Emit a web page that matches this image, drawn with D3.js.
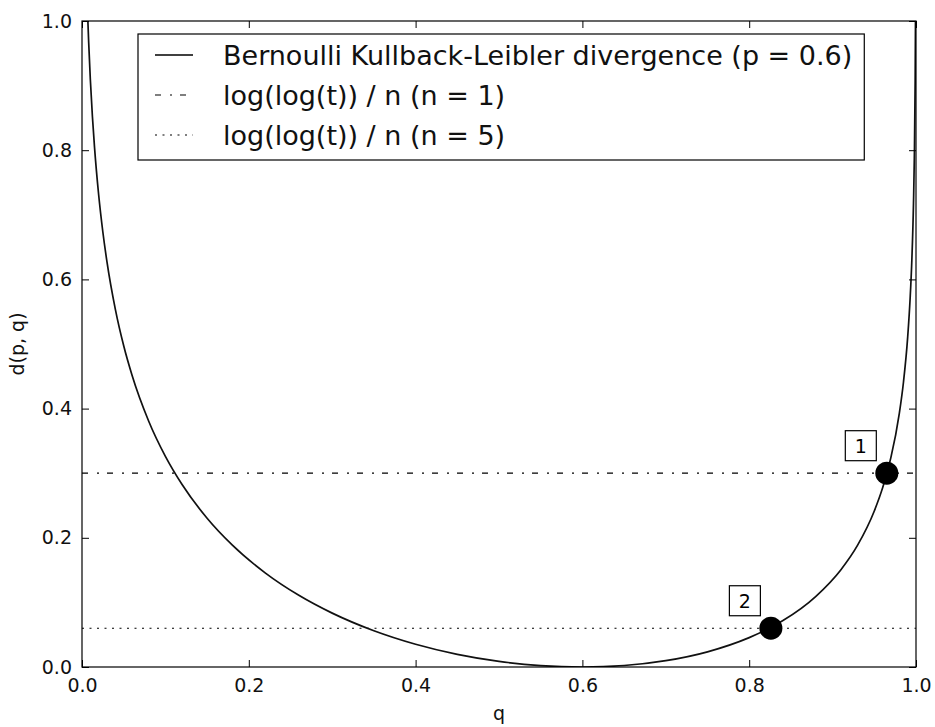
<!DOCTYPE html>
<html>
<head>
<meta charset="utf-8">
<script src="https://cdn.jsdelivr.net/npm/d3@7"></script>
<style>
  html, body { margin: 0; padding: 0; background: #fff; }
  svg { display: block; font-family: "DejaVu Sans", sans-serif; }
</style>
</head>
<body>
<svg id="chart" width="935" height="727"></svg>
<script>
// Bernoulli KL divergence d(0.6, q), sampled along q
const qValues = [0.0065, 0.007, 0.008, 0.01, 0.0125, 0.015, 0.02, 0.025, 0.03, 0.04, 0.05, 0.06, 0.08,
  0.10, 0.12, 0.15, 0.18, 0.22, 0.26, 0.30, 0.35, 0.40, 0.45, 0.50, 0.55, 0.60, 0.65, 0.70, 0.75,
  0.80, 0.82, 0.84, 0.88, 0.91, 0.93, 0.95, 0.96, 0.965, 0.97, 0.98, 0.985, 0.99, 0.993, 0.995,
  0.997, 0.998, 0.999, 0.9995];
const dValues = [1.0211, 1.0019, 0.9673, 0.9095, 0.8518, 0.8047, 0.7306, 0.6734, 0.6267, 0.5536,
  0.4972, 0.4516, 0.3804, 0.3260, 0.2824, 0.2303, 0.1890, 0.1454, 0.1110, 0.0834, 0.0561, 0.0352,
  0.0196, 0.0087, 0.0022, 0.0000, 0.0023, 0.0098, 0.0235, 0.0455, 0.0573, 0.0715, 0.1094, 0.1506,
  0.1886, 0.2415, 0.2775, 0.2994, 0.3248, 0.3926, 0.4412, 0.5103, 0.5715, 0.6294, 0.7177, 0.7878,
  0.9080, 1.0283];

// Threshold levels log(log(t)) / n
const thresholdN = [1, 5];
const thresholdValues = [0.30, 0.06];
const curveLabel = "Bernoulli Kullback-Leibler divergence (p = 0.6)";
const thresholdLabels = ["log(log(t)) / n (n = 1)", "log(log(t)) / n (n = 5)"];

// Intersection points marked on the curve
const markQ = [0.965, 0.826];
const markD = [0.30, 0.06];
const markText = ["1", "2"];

// Axis ticks
const xTicks = [0.0, 0.2, 0.4, 0.6, 0.8, 1.0];
const yTicks = [0.0, 0.2, 0.4, 0.6, 0.8, 1.0];

const svg = d3.select("#chart");
const pLeft = 82, pTop = 21, pRight = 916, pBottom = 667;
const x = d3.scaleLinear().domain([0, 1]).range([pLeft, pRight]);
const y = d3.scaleLinear().domain([0, 1]).range([pBottom, pTop]);
const tickFont = 19;

svg.append("defs").append("clipPath").attr("id", "plotclip")
  .append("rect").attr("x", pLeft).attr("y", pTop)
  .attr("width", pRight - pLeft).attr("height", pBottom - pTop);

const plot = svg.append("g").attr("clip-path", "url(#plotclip)");

const dashStyles = ["6,9,2,8", "2,5.5"];

// threshold lines
thresholdValues.forEach((v, i) => {
  plot.append("line")
    .attr("x1", x(0)).attr("x2", x(1))
    .attr("y1", y(v)).attr("y2", y(v))
    .attr("stroke", "#000").attr("stroke-width", 1.2)
    .attr("stroke-dasharray", dashStyles[i]);
});

// divergence curve
const pts = qValues.map((q, i) => [q, dValues[i]]);
plot.append("path")
  .attr("d", d3.line().x(d => x(d[0])).y(d => y(d[1])).curve(d3.curveMonotoneX)(pts))
  .attr("fill", "none").attr("stroke", "#111").attr("stroke-width", 1.7);

// axes with inward ticks on all sides
function styleAxis(g) {
  g.select(".domain").remove();
  g.selectAll("text").attr("font-size", tickFont).attr("fill", "#111")
    .attr("font-family", "DejaVu Sans, sans-serif");
  g.selectAll("line").attr("stroke", "#000").attr("stroke-width", 1);
}
const fmt = d3.format(".1f");
svg.append("g").attr("transform", `translate(0,${pBottom})`)
  .call(d3.axisBottom(x).tickValues(xTicks).tickFormat(fmt).tickSizeInner(-7).tickSizeOuter(0).tickPadding(12))
  .call(styleAxis);
svg.append("g").attr("transform", `translate(0,${pTop})`)
  .call(d3.axisTop(x).tickValues(xTicks).tickFormat("").tickSizeInner(-7).tickSizeOuter(0))
  .call(styleAxis);
svg.append("g").attr("transform", `translate(${pLeft},0)`)
  .call(d3.axisLeft(y).tickValues(yTicks).tickFormat(fmt).tickSizeInner(-7).tickSizeOuter(0).tickPadding(10))
  .call(styleAxis);
svg.append("g").attr("transform", `translate(${pRight},0)`)
  .call(d3.axisRight(y).tickValues(yTicks).tickFormat("").tickSizeInner(-7).tickSizeOuter(0))
  .call(styleAxis);

// frame
svg.append("rect").attr("x", pLeft).attr("y", pTop)
  .attr("width", pRight - pLeft).attr("height", pBottom - pTop)
  .attr("fill", "none").attr("stroke", "#000").attr("stroke-width", 1.2);

// axis titles
svg.append("text").attr("x", (pLeft + pRight) / 2).attr("y", 720)
  .attr("text-anchor", "middle").attr("font-size", tickFont).attr("fill", "#111").text("q");
svg.append("text").attr("transform", `translate(24,${(pTop + pBottom) / 2}) rotate(-90)`)
  .attr("text-anchor", "middle").attr("font-size", tickFont).attr("fill", "#111").text("d(p, q)");

// intersection markers with boxed labels
markQ.forEach((q, i) => {
  const cx = x(q), cy = y(markD[i]);
  svg.append("circle").attr("cx", cx).attr("cy", cy).attr("r", 11.5).attr("fill", "#000");
  const bx = cx - 26, by = cy - 27.5;
  svg.append("rect").attr("x", bx - 15.5).attr("y", by - 15).attr("width", 31).attr("height", 30)
    .attr("fill", "#fff").attr("stroke", "#000").attr("stroke-width", 1.2);
  svg.append("text").attr("x", bx).attr("y", by + 7).attr("text-anchor", "middle")
    .attr("font-size", tickFont).attr("fill", "#000").text(markText[i]);
});

// legend
const legend = svg.append("g");
const lgLeft = 138, lgTop = 34;
const lgBox = legend.append("rect").attr("x", lgLeft).attr("y", lgTop).attr("height", 126)
  .attr("fill", "#fff").attr("stroke", "#000").attr("stroke-width", 1.2);
const entries = [curveLabel].concat(thresholdLabels);
const entryDash = [null].concat(dashStyles);
let maxW = 0;
entries.forEach((label, i) => {
  const base = 65 + i * 40;
  const ln = legend.append("line").attr("x1", 155).attr("x2", 193)
    .attr("y1", base - 10).attr("y2", base - 10)
    .attr("stroke", "#000").attr("stroke-width", i === 0 ? 1.7 : 1.2);
  if (entryDash[i]) ln.attr("stroke-dasharray", entryDash[i]);
  const t = legend.append("text").attr("x", 223).attr("y", base)
    .attr("font-size", 27).attr("fill", "#111").text(label);
  maxW = Math.max(maxW, t.node().getComputedTextLength());
});
lgBox.attr("width", 223 + maxW + 12 - lgLeft);
</script>
</body>
</html>
